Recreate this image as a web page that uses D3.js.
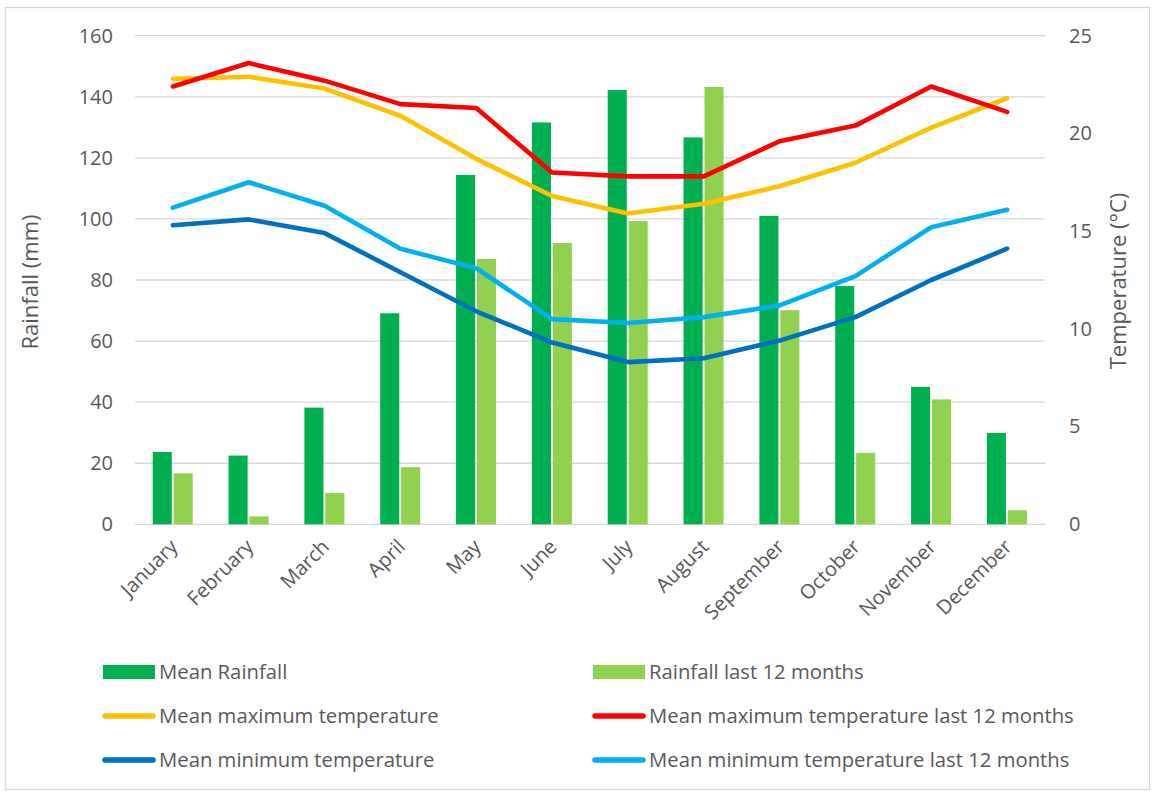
<!DOCTYPE html>
<html><head><meta charset="utf-8">
<script src="https://cdn.jsdelivr.net/npm/d3@7"></script>
<style>body{margin:0;background:#fff}svg{display:block}text{font-family:"Open Sans",sans-serif;fill:#595959}</style>
</head><body><svg id="c" width="1154" height="792"></svg>
<script>
const months = ["January","February","March","April","May","June","July","August","September","October","November","December"];
const meanRainfall = [23.7,22.5,38.2,69.1,114.4,131.6,142.2,126.7,101.0,78.0,45.0,29.9];
const rainfallLast12 = [16.7,2.6,10.2,18.7,86.9,92.1,99.3,143.2,70.1,23.4,40.9,4.6];
const meanMax = [22.8,22.9,22.3,20.9,18.7,16.8,15.9,16.4,17.3,18.5,20.3,21.8];
const meanMaxLast12 = [22.4,23.6,22.7,21.5,21.3,18.0,17.8,17.8,19.6,20.4,22.4,21.1];
const meanMin = [15.3,15.6,14.9,12.9,10.9,9.3,8.3,8.5,9.4,10.6,12.5,14.1];
const meanMinLast12 = [16.2,17.5,16.3,14.1,13.1,10.5,10.3,10.6,11.2,12.7,15.2,16.1];
const rainTicks = [0,20,40,60,80,100,120,140,160];
const tempTicks = [0,5,10,15,20,25];

const svg = d3.select("#c");
const L=135,R=1045,T=35.7,B=524.3;
svg.append("rect").attr("x",5.5).attr("y",7.5).attr("width",1144).attr("height",782).attr("fill","#fff").attr("stroke","#d9d9d9").attr("stroke-width",1.3);

const x = d3.scaleBand().domain(months).range([L,R]).padding(0);
const yR = d3.scaleLinear().domain([0,160]).range([B,T]);
const yT = d3.scaleLinear().domain([0,25]).range([B,T]);
const sub = d3.scaleBand().domain(["a","b"]).range([-20.2,19.8]).paddingInner(0.09);

// grid
svg.append("g").selectAll("line").data(rainTicks).join("line")
  .attr("x1",L).attr("x2",R).attr("y1",d=>yR(d)).attr("y2",d=>yR(d))
  .attr("stroke","#d9d9d9").attr("stroke-width",1.3);

// axes
const la = svg.append("g").attr("transform",`translate(${L},0)`)
  .call(d3.axisLeft(yR).tickValues(rainTicks).tickSize(0).tickPadding(22));
la.select(".domain").remove();
la.selectAll("text").style("font-size","20px").attr("fill","#595959").style("font-family","'Open Sans',sans-serif");
const ra = svg.append("g").attr("transform",`translate(${R},0)`)
  .call(d3.axisRight(yT).tickValues(tempTicks).tickSize(0).tickPadding(24));
ra.select(".domain").remove();
ra.selectAll("text").style("font-size","20px").attr("fill","#595959").style("font-family","'Open Sans',sans-serif");

// bars
const bars = svg.append("g");
bars.selectAll(".b1").data(meanRainfall).join("rect")
  .attr("x",(d,i)=>x(months[i])+x.bandwidth()/2+sub("a")).attr("width",sub.bandwidth())
  .attr("y",d=>yR(d)).attr("height",d=>yR(0)-yR(d)).attr("fill","#00B050");
bars.selectAll(".b2").data(rainfallLast12).join("rect")
  .attr("x",(d,i)=>x(months[i])+x.bandwidth()/2+sub("b")).attr("width",sub.bandwidth())
  .attr("y",d=>yR(d)).attr("height",d=>yR(0)-yR(d)).attr("fill","#92D050");

// lines
const line = d3.line().x((d,i)=>x(months[i])+x.bandwidth()/2).y(d=>yT(d));
const series = [
  [meanMax,"#FFC000"],[meanMaxLast12,"#FF0000"],[meanMin,"#0070C0"],[meanMinLast12,"#00B0F0"]
];
series.forEach(([d,c])=>svg.append("path").datum(d).attr("d",line).attr("fill","none")
  .attr("stroke",c).attr("stroke-width",4.6).attr("stroke-linecap","round").attr("stroke-linejoin","round"));

// x labels
svg.append("g").selectAll("text").data(months).join("text")
  .attr("transform",d=>`translate(${x(d)+x.bandwidth()/2+1},${543}) rotate(-45)`)
  .attr("text-anchor","end").attr("dy","0.35em").style("font-size","20px").text(d=>d);

// axis titles
svg.append("text").attr("transform",`translate(30,${(T+B)/2+2}) rotate(-90)`).attr("text-anchor","middle")
  .attr("dy","0.35em").style("font-size","22px").text("Rainfall (mm)");
svg.append("text").attr("transform",`translate(1118,${(T+B)/2+1}) rotate(-90)`).attr("text-anchor","middle")
  .attr("dy","0.35em").style("font-size","22px").text("Temperature (°C)");

// legend
const legend = [
  ["Mean Rainfall","#00B050","bar",103,672],["Rainfall last 12 months","#92D050","bar",593,672],
  ["Mean maximum temperature","#FFC000","line",103,716],["Mean maximum temperature last 12 months","#FF0000","line",593,716],
  ["Mean minimum temperature","#0070C0","line",103,760],["Mean minimum temperature last 12 months","#00B0F0","line",593,760]
];
const lg = svg.append("g");
legend.forEach(([t,c,k,lx,ly])=>{
  if(k==="bar") lg.append("rect").attr("x",lx).attr("y",ly-7).attr("width",52).attr("height",14).attr("fill",c);
  else lg.append("line").attr("x1",lx+2).attr("x2",lx+50).attr("y1",ly).attr("y2",ly).attr("stroke",c).attr("stroke-width",5.5).attr("stroke-linecap","round");
  lg.append("text").attr("x",lx+56).attr("y",ly).attr("dy","0.35em").style("font-size","20.3px").text(t);
});
</script></body></html>
